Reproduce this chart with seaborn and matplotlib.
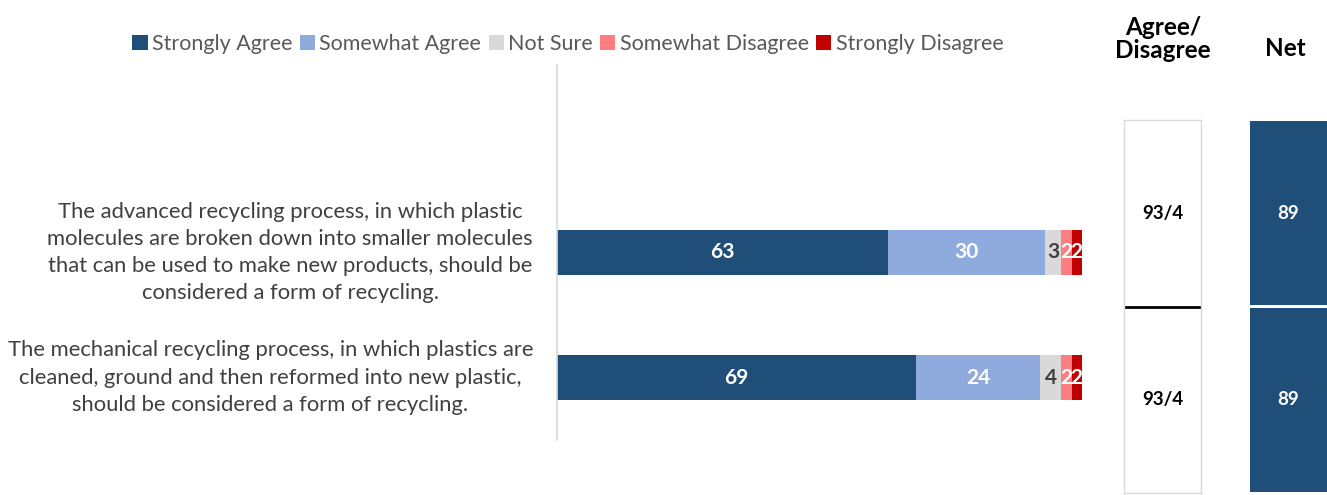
import numpy as np
import pandas as pd
import matplotlib
matplotlib.use("Agg")
import matplotlib.pyplot as plt
import matplotlib.transforms as mtransforms
from matplotlib.patches import Patch
import seaborn as sns

# -----------------------------
# Data
# -----------------------------
statements = [
    "The advanced recycling process, in which plastic\n"
    "molecules are broken down into smaller molecules\n"
    "that can be used to make new products, should be\n"
    "considered a form of recycling.",
    "The mechanical recycling process, in which plastics are\n"
    "cleaned, ground and then reformed into new plastic,\n"
    "should be considered a form of recycling.",
]
keys = ["advanced", "mechanical"]
series_names = ["Strongly Agree", "Somewhat Agree", "Not Sure",
                "Somewhat Disagree", "Strongly Disagree"]
strongly_agree = [63, 69]
somewhat_agree = [30, 24]
not_sure = [3, 4]
somewhat_disagree = [2, 2]
strongly_disagree = [2, 2]
agree_disagree = ["93/4", "93/4"]
net = [89, 89]

colors = ["#1F4E79", "#8FAADC", "#D9D9D9", "#FF7C80", "#C00000"]
label_colors = ["white", "white", "#404040", "white", "white"]

# -----------------------------
# Setup
# -----------------------------
sns.set_theme(style="white")
plt.rcParams["font.family"] = ["Lato", "DejaVu Sans"]

W, H = 1327, 495
fig = plt.figure(figsize=(W / 100, H / 100), dpi=100)
fig.patch.set_facecolor("white")

df = pd.DataFrame({"key": keys})
values = [strongly_agree, somewhat_agree, not_sure, somewhat_disagree, strongly_disagree]
for name, vals in zip(series_names, values):
    df[name] = vals
# 100% stacked: each row scaled to its own total
share = df[series_names].div(df[series_names].sum(axis=1), axis=0) * 100
cum = share.cumsum(axis=1)
starts = cum - share

# -----------------------------
# Stacked bar chart
# -----------------------------
ax = fig.add_axes([557 / W, 1 - 440 / H, 525 / W, 375 / H])
for i in reversed(range(len(series_names))):
    plot_df = pd.DataFrame({"key": keys, "value": cum[series_names[i]].values})
    sns.barplot(data=plot_df, x="value", y="key", orient="h", color=colors[i],
                saturation=1, width=0.36, edgecolor="none", ax=ax)

ax.set_xlim(0, 100)
ax.set_ylim(1.5, -1.5)
ax.set_xlabel("")
ax.set_ylabel("")
ax.set_xticks([])
ax.set_yticks([])
for side in ["top", "right", "bottom"]:
    ax.spines[side].set_visible(False)
ax.spines["left"].set_color("#D9D9D9")
ax.spines["left"].set_linewidth(1.2)
ax.patch.set_alpha(0)

# segment labels
for row in range(len(keys)):
    for i, name in enumerate(series_names):
        v = df.loc[row, name]
        x = starts.loc[row, name] + share.loc[row, name] / 2
        ax.text(x, row, f"{v}", ha="center", va="center",
                color=label_colors[i], fontsize=15, fontweight="bold")

# statement labels
trans = mtransforms.blended_transform_factory(fig.transFigure, ax.transData)
for row, s in enumerate(statements):
    ax.text(533 / W, row, s, transform=trans, ha="right", va="center",
            multialignment="center", fontsize=15.8, color="#404040",
            linespacing=1.45)

# legend
handles = [Patch(facecolor=c, edgecolor="none") for c in colors]
fig.legend(handles, series_names, loc="center", bbox_to_anchor=(568 / W, 1 - 44 / H),
           ncol=5, frameon=False, handlelength=0.7, handleheight=0.7,
           handletextpad=0.2, columnspacing=0.35, fontsize=15.5,
           labelcolor="#595959")

# -----------------------------
# Agree/Disagree panel
# -----------------------------
ax2 = fig.add_axes([1124 / W, 1 - 493 / H, 77 / W, 373 / H])
ax2.set_xlim(0, 1)
ax2.set_ylim(1.0, -1.0)
ax2.set_xticks([])
ax2.set_yticks([])
for sp in ax2.spines.values():
    sp.set_color("#D9D9D9")
    sp.set_linewidth(1)
ax2.axhline(0, color="black", lw=2)
for row, txt in enumerate(agree_disagree):
    ax2.text(0.5, -0.5 + row, txt, ha="center", va="center",
             fontsize=13.5, fontweight="bold", color="black")

# -----------------------------
# Net panel
# -----------------------------
ax3 = fig.add_axes([1250 / W, 1 - 493 / H, 77 / W, 373 / H])
net_df = pd.DataFrame({"key": keys, "net": net})
sns.barplot(data=net_df, x="net", y="key", orient="h", color=colors[0],
            saturation=1, width=0.985, edgecolor="none", ax=ax3)
ax3.set_xlim(0, max(net))
ax3.set_ylim(1.5, -0.5)
ax3.set_xticks([])
ax3.set_yticks([])
ax3.set_xlabel("")
ax3.set_ylabel("")
for sp in ax3.spines.values():
    sp.set_visible(False)
for row, v in enumerate(net):
    ax3.text(max(net) / 2, row, f"{v}", ha="center", va="center",
             fontsize=13.5, fontweight="bold", color="white")

# headers
fig.text(1163 / W, 1 - 39 / H, "Agree/\nDisagree", ha="center", va="center",
         fontsize=17.5, fontweight="bold", color="black", linespacing=1.05)
fig.text(1285 / W, 1 - 48 / H, "Net", ha="center", va="center",
         fontsize=17.5, fontweight="bold", color="black")

fig.savefig("out.png", dpi=100, facecolor="white")
